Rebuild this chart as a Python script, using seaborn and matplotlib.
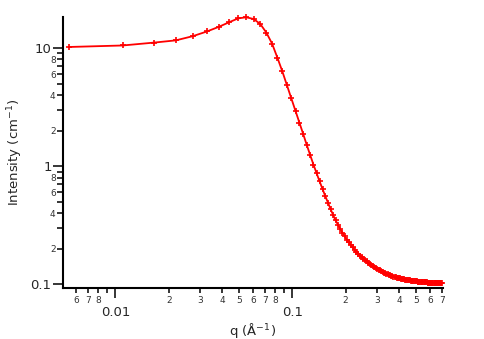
import matplotlib
matplotlib.use("Agg")
import matplotlib.pyplot as plt
import seaborn as sns
import pandas as pd

# ---- data ----
q = [0.00548, 0.01096, 0.01644, 0.02192, 0.0274, 0.03288, 0.03836, 0.04384, 0.04932, 0.0548,
     0.06028, 0.06576, 0.07124, 0.07672, 0.0822, 0.08768, 0.09316, 0.09864, 0.10412, 0.1096,
     0.11508, 0.12056, 0.12604, 0.13152, 0.137, 0.14248, 0.14796, 0.15344, 0.15892, 0.1644,
     0.16988, 0.17536, 0.18084, 0.18632, 0.1918, 0.19728, 0.20276, 0.20824, 0.21372, 0.2192,
     0.22468, 0.23016, 0.23564, 0.24112, 0.2466, 0.25208, 0.25756, 0.26304, 0.26852, 0.274,
     0.27948, 0.28496, 0.29044, 0.29592, 0.3014, 0.30688, 0.31236, 0.31784, 0.32332, 0.3288,
     0.33428, 0.33976, 0.34524, 0.35072, 0.3562, 0.36168, 0.36716, 0.37264, 0.37812, 0.3836,
     0.38908, 0.39456, 0.40004, 0.40552, 0.411, 0.41648, 0.42196, 0.42744, 0.43292, 0.4384,
     0.44388, 0.44936, 0.45484, 0.46032, 0.4658, 0.47128, 0.47676, 0.48224, 0.48772, 0.4932,
     0.49868, 0.50416, 0.50964, 0.51512, 0.5206, 0.52608, 0.53156, 0.53704, 0.54252, 0.548,
     0.55348, 0.55896, 0.56444, 0.56992, 0.5754, 0.58088, 0.58636, 0.59184, 0.59732, 0.6028,
     0.60828, 0.61376, 0.61924, 0.62472, 0.6302, 0.63568, 0.64116, 0.64664, 0.65212, 0.6576,
     0.66308, 0.66856, 0.67404, 0.67952, 0.685, 0.69048, 0.69596, 0.70144]

intensity = [10.2, 10.5, 11.1, 11.6, 12.6, 13.8, 15.1, 16.5, 17.8, 18.2,
             17.6, 16.0, 13.5, 10.9, 8.3, 6.35, 4.84, 3.74, 2.95, 2.34,
             1.87, 1.51, 1.24, 1.03, 0.870, 0.743, 0.640, 0.557, 0.489, 0.433,
             0.386, 0.348, 0.320, 0.295, 0.274, 0.255, 0.238, 0.226, 0.215, 0.205,
             0.197, 0.189, 0.182, 0.175, 0.170, 0.165, 0.160, 0.156, 0.152, 0.148,
             0.145, 0.142, 0.139, 0.137, 0.135, 0.132, 0.131, 0.129, 0.127, 0.1255,
             0.124, 0.1227, 0.1215, 0.1203, 0.1193, 0.1183, 0.1173, 0.1164, 0.1156, 0.1149,
             0.1141, 0.1135, 0.1128, 0.1122, 0.1117, 0.1111, 0.1106, 0.1102, 0.1097, 0.1093,
             0.1089, 0.1085, 0.1082, 0.1079, 0.1075, 0.1072, 0.1069, 0.1067, 0.1064, 0.1062,
             0.1059, 0.1057, 0.1055, 0.1053, 0.1051, 0.1049, 0.1047, 0.1046, 0.1044, 0.1043,
             0.1041, 0.1040, 0.1038, 0.1037, 0.1036, 0.1035, 0.1034, 0.1033, 0.1032, 0.1031,
             0.1030, 0.1029, 0.1028, 0.1027, 0.1026, 0.1025, 0.1025, 0.1024, 0.1023, 0.1023,
             0.1022, 0.1021, 0.1021, 0.1020, 0.1020, 0.1019, 0.1019, 0.1018]

x_major_ticks = [0.01, 0.1]
x_major_labels = ["0.01", "0.1"]
x_minor_ticks = [0.006, 0.007, 0.008, 0.009,
                 0.02, 0.03, 0.04, 0.05, 0.06, 0.07, 0.08, 0.09,
                 0.2, 0.3, 0.4, 0.5, 0.6, 0.7]
x_minor_labels = ["6", "7", "8", "",
                  "2", "3", "4", "5", "6", "7", "8", "",
                  "2", "3", "4", "5", "6", "7"]
y_major_ticks = [0.1, 1, 10]
y_major_labels = ["0.1", "1", "10"]
y_minor_ticks = [0.2, 0.3, 0.4, 0.5, 0.6, 0.7, 0.8, 0.9,
                 2, 3, 4, 5, 6, 7, 8, 9]
y_minor_labels = ["2", "", "4", "", "6", "", "8", "",
                  "2", "", "4", "", "6", "", "8", ""]

df = pd.DataFrame({"q": q, "I": intensity})

sns.set_style("ticks")
plt.rcParams["font.family"] = ["DejaVu Sans"]

fig = plt.figure(figsize=(4.84, 3.39), dpi=100)
ax = fig.add_axes([63 / 484, 1 - 288.3 / 339, 380 / 484, 271.6 / 339])

sns.lineplot(data=df, x="q", y="I", ax=ax, color="red", linewidth=1.3,
             marker="+", markersize=4, markeredgewidth=1.2,
             markeredgecolor="red", sort=False, estimator=None, clip_on=False)

ax.set_xscale("log")
ax.set_yscale("log")
ax.set_xlim(0.00505, 0.71)
ax.set_ylim(0.0925, 18.4)

ax.set_xticks(x_major_ticks, labels=x_major_labels)
ax.set_xticks(x_minor_ticks, labels=x_minor_labels, minor=True)
ax.set_yticks(y_major_ticks, labels=y_major_labels)
ax.set_yticks(y_minor_ticks, labels=y_minor_labels, minor=True)

for s in ["top", "right"]:
    ax.spines[s].set_visible(False)
for s in ["left", "bottom"]:
    ax.spines[s].set_linewidth(1.5)
    ax.spines[s].set_color("black")

ax.tick_params(axis="x", which="major", direction="out", length=7.2, width=1.1,
               labelsize=9.5, pad=5.5, color="black")
ax.tick_params(axis="x", which="minor", direction="out", length=3.6, width=1.1,
               labelsize=6.5, pad=2.0, color="black", labelcolor="#333333")
ax.tick_params(axis="y", which="major", direction="out", length=7.2, width=1.1,
               labelsize=9.5, pad=1.0, color="black")
ax.tick_params(axis="y", which="minor", direction="out", length=4.3, width=1.1,
               labelsize=6.5, pad=1.0, color="black", labelcolor="#333333")

ax.set_xlabel("q (Å$^{-1}$)", fontsize=9.5)
ax.set_ylabel("Intensity (cm$^{-1}$)", fontsize=9.5)
ax.xaxis.set_label_coords(0.5, -0.12)
ax.yaxis.set_label_coords(-0.1, 0.5)
ax.grid(False)

fig.savefig("out.png", dpi=100)
